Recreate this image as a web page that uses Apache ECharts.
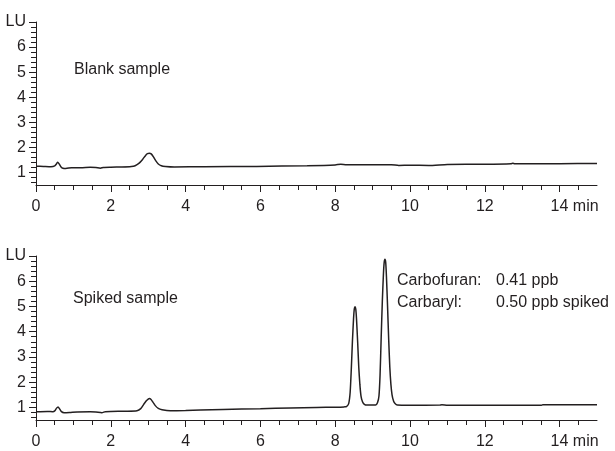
<!DOCTYPE html>
<html>
<head>
<meta charset="utf-8">
<script src="https://cdn.jsdelivr.net/npm/echarts@6/dist/echarts.min.js"></script>
<style>
  html, body { margin: 0; padding: 0; background: #fff; }
  #chart { width: 615px; height: 451px; }
</style>
</head>
<body>
<div id="chart"></div>
<script>
// blank sample trace: [time (min), signal (LU)]
var blankTrace = [
  [0, 1.25], [0.2, 1.24], [0.4, 1.23], [0.5, 1.26], [0.55, 1.35], [0.58, 1.41],
  [0.62, 1.34], [0.67, 1.22], [0.72, 1.17], [0.8, 1.16], [0.95, 1.19], [1.2, 1.19],
  [1.45, 1.21], [1.6, 1.2], [1.72, 1.17], [1.8, 1.2], [2.0, 1.21], [2.3, 1.22],
  [2.55, 1.24], [2.65, 1.27], [2.75, 1.36], [2.85, 1.52], [2.93, 1.68], [2.98, 1.75],
  [3.03, 1.77], [3.08, 1.74], [3.14, 1.62], [3.2, 1.47], [3.27, 1.34], [3.35, 1.27],
  [3.46, 1.24], [3.7, 1.22], [4.5, 1.23], [5.9, 1.24], [7.25, 1.27], [8.0, 1.3],
  [8.15, 1.33], [8.3, 1.31], [9.5, 1.31], [9.7, 1.28], [10.0, 1.29], [10.5, 1.28],
  [11.0, 1.32], [12.0, 1.33], [12.7, 1.35], [12.75, 1.37], [12.8, 1.35], [14.0, 1.35],
  [15, 1.36]
];

// spiked sample trace (carbofuran ~8.5 min, carbaryl ~9.3 min)
var spikedTrace = [
  [0, 0.83], [0.3, 0.84], [0.45, 0.83], [0.5, 0.86], [0.55, 0.97], [0.59, 1.02],
  [0.63, 0.94], [0.68, 0.83], [0.75, 0.79], [0.9, 0.8], [1.1, 0.82], [1.45, 0.83],
  [1.6, 0.82], [1.76, 0.79], [1.85, 0.83], [2.0, 0.84], [2.4, 0.85], [2.7, 0.87],
  [2.8, 0.95], [2.88, 1.12], [2.95, 1.26], [3.0, 1.33], [3.03, 1.35], [3.07, 1.32],
  [3.13, 1.2], [3.19, 1.07], [3.27, 0.96], [3.37, 0.91], [3.59, 0.87], [4.0, 0.88],
  [4.4, 0.9], [5.0, 0.92], [6.0, 0.95], [6.8, 0.98], [7.5, 1.0], [8.0, 1.01],
  [8.24, 1.02], [8.3, 1.03], [8.36, 1.15], [8.4, 1.6], [8.43, 2.5], [8.46, 3.6],
  [8.49, 4.5], [8.51, 4.9], [8.53, 4.99], [8.55, 4.9], [8.57, 4.5], [8.6, 3.6],
  [8.63, 2.6], [8.66, 1.9], [8.69, 1.45], [8.73, 1.22], [8.78, 1.12], [8.85, 1.09],
  [9.08, 1.09], [9.13, 1.18], [9.17, 1.45], [9.2, 2.3], [9.23, 3.8], [9.26, 5.2],
  [9.29, 6.3], [9.31, 6.75], [9.33, 6.87], [9.35, 6.75], [9.37, 6.2], [9.4, 5.0],
  [9.43, 3.7], [9.46, 2.6], [9.49, 1.9], [9.52, 1.5], [9.56, 1.25], [9.6, 1.15],
  [9.66, 1.09], [10.0, 1.08], [10.8, 1.09], [10.85, 1.1], [11.0, 1.08], [12.0, 1.08],
  [13.5, 1.08], [13.55, 1.1], [15, 1.1]
];

var xLabelValues = [0, 2, 4, 6, 8, 10, 12, 14];
var xMinorValues = [0.5, 1, 1.5, 2.5, 3, 3.5, 4.5, 5, 5.5, 6.5, 7, 7.5, 8.5, 9, 9.5,
  10.5, 11, 11.5, 12.5, 13, 13.5, 14.5];
var yLabelValues = [1, 2, 3, 4, 5, 6, 7];
var yMinorValues = [0.6, 0.8, 1.2, 1.4, 1.6, 1.8, 2.2, 2.4, 2.6, 2.8, 3.2, 3.4, 3.6, 3.8,
  4.2, 4.4, 4.6, 4.8, 5.2, 5.4, 5.6, 5.8, 6.2, 6.4, 6.6, 6.8];

var FONT = '"Liberation Sans", Arial, sans-serif';
var INK = '#231f20';

var chart = echarts.init(document.getElementById('chart'));

function xAxes(grid) {
  return [{
    type: 'value', gridIndex: grid, min: 0, max: 15, position: 'bottom',
    axisLine: { show: true, lineStyle: { color: INK, width: 1 } },
    axisTick: { show: true, length: 7, customValues: xLabelValues, lineStyle: { color: INK } },
    axisLabel: {
      customValues: xLabelValues, margin: 14, color: INK, fontSize: 16, fontFamily: FONT,
      formatter: function (v) { return v === 14 ? '{t|14 min}' : String(v); },
      rich: { t: { padding: [0, 0, 0, 30], fontSize: 16, fontFamily: FONT, color: INK } }
    },
    splitLine: { show: false }
  }, {
    type: 'value', gridIndex: grid, min: 0, max: 15, position: 'bottom',
    axisLine: { show: false },
    axisTick: { show: true, length: 5, customValues: xMinorValues, lineStyle: { color: INK } },
    axisLabel: { show: false },
    splitLine: { show: false }
  }];
}

function yAxes(grid) {
  return [{
    type: 'value', gridIndex: grid, min: 0.5, max: 7, position: 'left',
    axisLine: { show: true, lineStyle: { color: INK, width: 1 } },
    axisTick: { show: true, length: 7, customValues: yLabelValues, lineStyle: { color: INK } },
    axisLabel: {
      customValues: yLabelValues, margin: 10, color: INK, fontSize: 16, fontFamily: FONT,
      formatter: function (v) { return v === 7 ? 'LU' : String(v); }
    },
    splitLine: { show: false }
  }, {
    type: 'value', gridIndex: grid, min: 0.5, max: 7, position: 'left',
    axisLine: { show: false },
    axisTick: { show: true, length: 5, customValues: yMinorValues, lineStyle: { color: INK } },
    axisLabel: { show: false },
    splitLine: { show: false }
  }];
}

function note(x, y, s) {
  return { type: 'text', left: x, top: y, style: { text: s, fill: INK, font: '16px ' + FONT } };
}

var option = {
  animation: false,
  backgroundColor: '#fff',
  grid: [
    { left: 36, right: 18, top: 22, height: 163 },
    { left: 36, right: 18, top: 256, height: 164 }
  ],
  xAxis: xAxes(0).concat(xAxes(1)),
  yAxis: yAxes(0).concat(yAxes(1)),
  series: [
    {
      name: 'Blank sample', type: 'line', xAxisIndex: 0, yAxisIndex: 0,
      data: blankTrace, showSymbol: false, smooth: 0.2,
      lineStyle: { color: INK, width: 1.5 }
    },
    {
      name: 'Spiked sample', type: 'line', xAxisIndex: 2, yAxisIndex: 2,
      data: spikedTrace, showSymbol: false, smooth: 0.2,
      lineStyle: { color: INK, width: 1.5 }
    }
  ],
  graphic: [
    note(74, 62, 'Blank sample'),
    note(73, 291, 'Spiked sample'),
    note(397, 273, 'Carbofuran:'),
    note(496, 273, '0.41 ppb'),
    note(397, 295, 'Carbaryl:'),
    note(496, 295, '0.50 ppb spiked')
  ]
};

chart.setOption(option);
</script>
</body>
</html>
